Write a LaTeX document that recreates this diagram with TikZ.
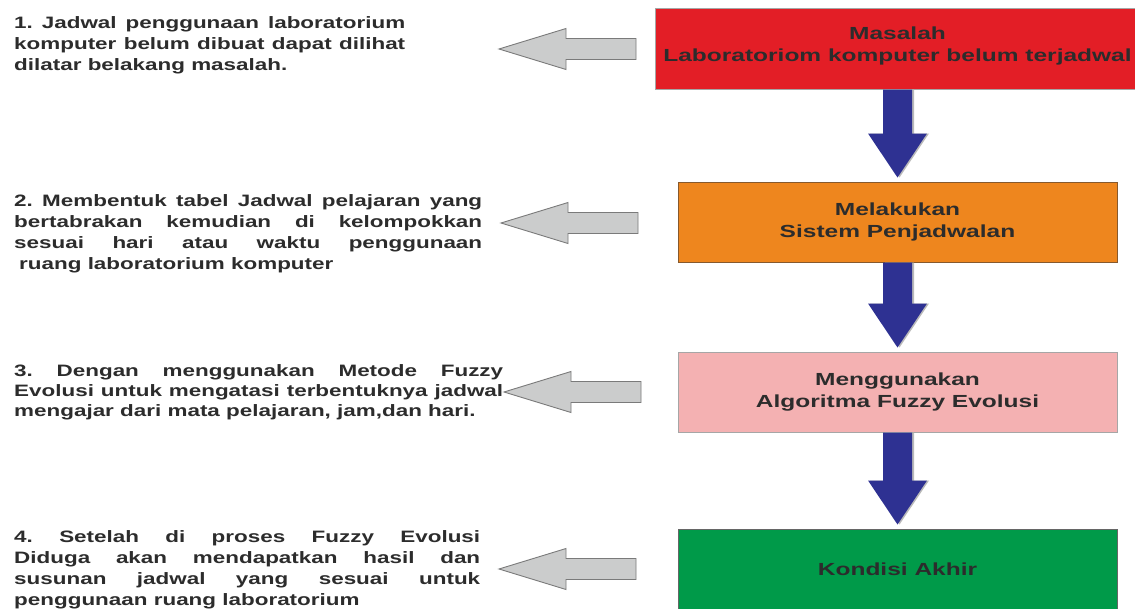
\documentclass[tikz,border=0pt]{standalone}
\usepackage{fontspec}
\usetikzlibrary{calc}
\newfontfamily\leftfont[FakeStretch=1.36]{Liberation Sans}
\newfontfamily\boxfont[FakeStretch=1.4]{Liberation Sans}
\definecolor{txtc}{HTML}{2C2C2C}
\definecolor{redc}{HTML}{E31E26}
\definecolor{orangec}{HTML}{EE861E}
\definecolor{pinkc}{HTML}{F4B1B2}
\definecolor{greenc}{HTML}{009A49}
\definecolor{bluec}{HTML}{2E3192}
\definecolor{grayfill}{HTML}{CBCCCC}
\definecolor{grayline}{HTML}{7A7A7A}
\frenchspacing
\newcommand\jline[2]{\makebox[#1][s]{#2}}
\tikzset{
  lefttext/.style={font=\leftfont\bfseries\fontsize{16.5}{20}\selectfont, text=txtc, inner sep=0pt, anchor=base west},
  stagebox/.style={draw=#1, line width=1pt, minimum width=439pt, minimum height=80pt, inner sep=0pt, align=center,
    font=\boxfont\bfseries\fontsize{17.5}{21.5}\selectfont, text=txtc},
  grayarrowstyle/.style={fill=grayfill, draw=grayline, line width=0.9pt, line join=miter},
}
\newcommand\bluedown[2]{%
  \fill[gray!55] let \p1=(#1.south), \p2=(#2.north) in
    (\x1-12.5pt,\y1) -- (\x1+16.5pt,\y1) -- (\x1+16.5pt,\y2+48pt) -- (\x1+31.5pt,\y2+48pt)
    -- (\x1+2pt,\y2+4pt) -- (\x1-27.5pt,\y2+48pt) -- (\x1-12.5pt,\y2+48pt) -- cycle;
  \fill[bluec] let \p1=(#1.south), \p2=(#2.north) in
    (\x1-14.5pt,\y1) -- (\x1+14.5pt,\y1) -- (\x1+14.5pt,\y2+48pt) -- (\x1+29.5pt,\y2+48pt)
    -- (\x1,\y2+4pt) -- (\x1-29.5pt,\y2+48pt) -- (\x1-14.5pt,\y2+48pt) -- cycle;
}
\newcommand\grayleft[1]{%
  \draw[grayarrowstyle] (#1) -- ++(67,-20.5) -- ++(0,10) -- ++(70,0) -- ++(0,21) -- ++(-70,0) -- ++(0,10) -- cycle;
}
\begin{document}
\begin{tikzpicture}[x=1pt,y=-1pt]
\useasboundingbox (0,0) rectangle (1135,608);
\clip (0,0) rectangle (1135,608);
\fill[white] (0,0) rectangle (1135,608);

% stage boxes
\node[stagebox=gray!70, fill=redc, minimum width=505pt, minimum height=81pt] (masalahbox) at (907.5,48.5) {};
\node[font=\boxfont\bfseries\fontsize{17.5}{21.5}\selectfont, text=txtc, align=center, inner sep=0pt]
  (masalah) at (897.5,46) {Masalah\\Laboratoriom komputer belum terjadwal};
\node[stagebox={brown!70!black}, fill=orangec] (sistem) at (897.5,222)
  {Melakukan\\Sistem Penjadwalan};
\node[stagebox=gray!70, fill=pinkc] (algoritma) at (897.5,392)
  {Menggunakan\\Algoritma Fuzzy Evolusi};
\node[stagebox=gray!80!black, fill=greenc] (akhir) at (897.5,569)
  {Kondisi Akhir};

% blue connectors
\coordinate (masalahbot) at (masalahbox.south -| masalah.south);
\fill[gray!55] let \p1=(masalahbot), \p2=(sistem.north) in
    (\x1-12.5pt,\y1) -- (\x1+16.5pt,\y1) -- (\x1+16.5pt,\y2+48pt) -- (\x1+31.5pt,\y2+48pt)
    -- (\x1+2pt,\y2+4pt) -- (\x1-27.5pt,\y2+48pt) -- (\x1-12.5pt,\y2+48pt) -- cycle;
\fill[bluec] let \p1=(masalahbot), \p2=(sistem.north) in
    (\x1-14.5pt,\y1) -- (\x1+14.5pt,\y1) -- (\x1+14.5pt,\y2+48pt) -- (\x1+29.5pt,\y2+48pt)
    -- (\x1,\y2+4pt) -- (\x1-29.5pt,\y2+48pt) -- (\x1-14.5pt,\y2+48pt) -- cycle;
\bluedown{sistem}{algoritma}
\bluedown{algoritma}{akhir}

% left texts
\node[lefttext] (p1a) at (14,28) {\jline{391pt}{1. Jadwal penggunaan laboratorium}};
\node[lefttext] (p1b) at (14,49) {\jline{391pt}{komputer belum dibuat dapat dilihat}};
\node[lefttext] (p1c) at (14,70) {dilatar belakang masalah.};

\node[lefttext] (p2a) at (14,206) {\jline{468pt}{2. Membentuk tabel Jadwal pelajaran yang}};
\node[lefttext] (p2b) at (14,227) {\jline{468pt}{bertabrakan kemudian di kelompokkan}};
\node[lefttext] (p2c) at (14,248) {\jline{468pt}{sesuai hari atau waktu penggunaan}};
\node[lefttext] (p2d) at (19,269) {ruang laboratorium komputer};

\node[lefttext] (p3a) at (14,376) {\jline{489pt}{3. Dengan menggunakan Metode Fuzzy}};
\node[lefttext] (p3b) at (14,396) {\jline{489pt}{Evolusi untuk mengatasi terbentuknya jadwal}};
\node[lefttext] (p3c) at (14,416) {mengajar dari mata pelajaran, jam,dan hari.};

\node[lefttext] (p4a) at (14,542) {\jline{466pt}{4. Setelah di proses Fuzzy Evolusi}};
\node[lefttext] (p4b) at (14,563) {\jline{466pt}{Diduga akan mendapatkan hasil dan}};
\node[lefttext] (p4c) at (14,584) {\jline{466pt}{susunan jadwal yang sesuai untuk}};
\node[lefttext] (p4d) at (14,605) {penggunaan ruang laboratorium};

% gray arrows
\coordinate (g1) at (499,49);
\coordinate (g2) at (501,223);
\coordinate (g3) at (504,392);
\coordinate (g4) at (499,569);
\grayleft{g1}
\grayleft{g2}
\grayleft{g3}
\grayleft{g4}
\end{tikzpicture}
\end{document}
